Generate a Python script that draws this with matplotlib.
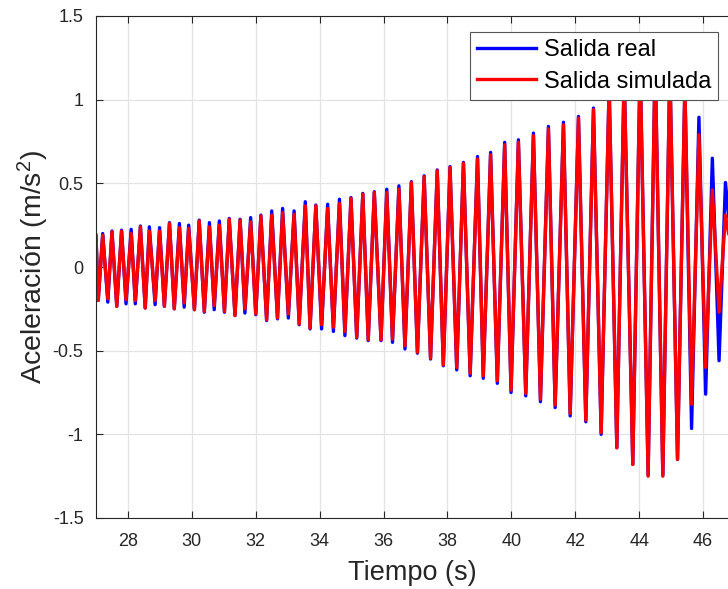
import matplotlib
matplotlib.use('Agg')
import matplotlib.pyplot as plt

# extrema of the oscillation (time in s, accel in m/s^2)
t = [27.00, 27.07, 27.21, 27.37, 27.50, 27.65, 27.80, 27.94, 28.10, 28.23,
     28.39, 28.54, 28.67, 28.85, 28.99, 29.14, 29.30, 29.45, 29.61, 29.76,
     29.90, 30.08, 30.23, 30.39, 30.55, 30.70, 30.86, 31.02, 31.17, 31.35,
     31.51, 31.66, 31.84, 32.00, 32.16, 32.34, 32.50, 32.68, 32.84, 33.02,
     33.20, 33.36, 33.55, 33.70, 33.88, 34.06, 34.25, 34.43, 34.62, 34.79,
     34.98, 35.16, 35.35, 35.52, 35.71, 35.92, 36.10, 36.28, 36.48, 36.67,
     36.87, 37.06, 37.27, 37.47, 37.68, 37.87, 38.08, 38.29, 38.50, 38.71,
     38.94, 39.12, 39.35, 39.56, 39.79, 39.99, 40.22, 40.45, 40.69, 40.91,
     41.16, 41.37, 41.63, 41.84, 42.10, 42.33, 42.57, 42.81, 43.06, 43.30,
     43.53, 43.80, 44.03, 44.28, 44.50, 44.74, 44.96, 45.20, 45.43, 45.64,
     45.87, 46.08, 46.29, 46.50, 46.70, 46.80]

salida_real = [0.19, -0.20, 0.20, -0.21, 0.215, -0.235, 0.22, -0.22, 0.225, -0.22,
               0.245, -0.245, 0.24, -0.225, 0.235, -0.235, 0.265, -0.25, 0.26, -0.24,
               0.25, -0.255, 0.28, -0.27, 0.265, -0.255, 0.275, -0.27, 0.29, -0.29,
               0.285, -0.275, 0.295, -0.285, 0.31, -0.32, 0.335, -0.31, 0.35, -0.305,
               0.335, -0.345, 0.39, -0.37, 0.37, -0.37, 0.375, -0.385, 0.405, -0.41,
               0.415, -0.425, 0.44, -0.44, 0.45, -0.44, 0.465, -0.45, 0.485, -0.49,
               0.51, -0.515, 0.545, -0.55, 0.58, -0.59, 0.60, -0.615, 0.625, -0.65,
               0.66, -0.665, 0.685, -0.695, 0.745, -0.75, 0.76, -0.77, 0.80, -0.805,
               0.84, -0.84, 0.865, -0.89, 0.90, -0.925, 0.95, -1.00, 1.08, -1.08,
               1.15, -1.18, 1.22, -1.245, 1.25, -1.245, 1.20, -1.15, 1.08, -0.965,
               0.895, -0.76, 0.65, -0.56, 0.505, 0.30]

salida_sim = [0.18, -0.20, 0.19, -0.19, 0.21, -0.235, 0.215, -0.195, 0.20, -0.20,
              0.24, -0.245, 0.215, -0.20, 0.215, -0.235, 0.26, -0.25, 0.235, -0.215,
              0.23, -0.255, 0.275, -0.265, 0.24, -0.23, 0.25, -0.265, 0.285, -0.29,
              0.28, -0.25, 0.27, -0.28, 0.305, -0.315, 0.31, -0.305, 0.325, -0.28,
              0.315, -0.34, 0.365, -0.365, 0.365, -0.345, 0.35, -0.36, 0.38, -0.385,
              0.41, -0.42, 0.435, -0.435, 0.445, -0.435, 0.445, -0.43, 0.465, -0.47,
              0.505, -0.51, 0.54, -0.545, 0.575, -0.585, 0.595, -0.60, 0.62, -0.635,
              0.645, -0.65, 0.67, -0.68, 0.73, -0.735, 0.745, -0.755, 0.785, -0.79,
              0.825, -0.825, 0.85, -0.875, 0.89, -0.915, 0.94, -0.99, 1.08, -1.08,
              1.15, -1.18, 1.22, -1.25, 1.25, -1.25, 1.20, -1.15, 1.08, -0.82,
              0.79, -0.60, 0.46, -0.27, 0.31, 0.20]

xticks = [28, 30, 32, 34, 36, 38, 40, 42, 44, 46]
yticks = [-1.5, -1, -0.5, 0, 0.5, 1, 1.5]

plt.rcParams['font.family'] = ['Liberation Sans', 'DejaVu Sans']
plt.rcParams['mathtext.default'] = 'regular'
plt.rcParams['axes.unicode_minus'] = False

dark = '#262626'
fig = plt.figure(figsize=(7.28, 5.89), dpi=100)
ax = fig.add_axes([96 / 728, 1 - 518 / 589, (728 - 96) / 728, (518 - 16) / 589])

ax.plot(t, salida_real, color=(0, 0, 1), lw=2.4, solid_joinstyle='round', label='Salida real')
ax.plot(t, salida_sim, color=(1, 0, 0), lw=2.4, solid_joinstyle='round', label='Salida simulada')

ax.set_xlim(27, 46.78)
ax.set_ylim(-1.5, 1.5)
ax.set_xticks(xticks)
ax.set_yticks(yticks)
ax.set_yticklabels([f'{v:g}' for v in yticks])
ax.grid(True, color='#e3e3e3', lw=0.9)
ax.set_axisbelow(True)
ax.tick_params(axis='both', direction='in', length=5, width=0.8, colors=dark,
               labelsize=13, top=True, right=False)
ax.tick_params(axis='x', pad=11)
ax.tick_params(axis='y', pad=9)
for side in ['left', 'top', 'bottom']:
    ax.spines[side].set_color(dark)
    ax.spines[side].set_linewidth(0.8)
ax.spines['right'].set_visible(False)

ax.set_xlabel('Tiempo (s)', fontsize=19.5, color=dark, labelpad=7)
ax.set_ylabel('Aceleración (m/s$^2$)', fontsize=20.5, color=dark, labelpad=1)

leg = ax.legend(loc='upper right', bbox_to_anchor=(718 / 728, 1 - 32 / 589),
                bbox_transform=fig.transFigure, fontsize=17, fancybox=False,
                framealpha=1, edgecolor='#555555', borderpad=0.3,
                labelspacing=0.4, handlelength=2.5, handletextpad=0.3,
                borderaxespad=0)
leg.get_frame().set_linewidth(0.8)

fig.savefig('out.png', dpi=100)
